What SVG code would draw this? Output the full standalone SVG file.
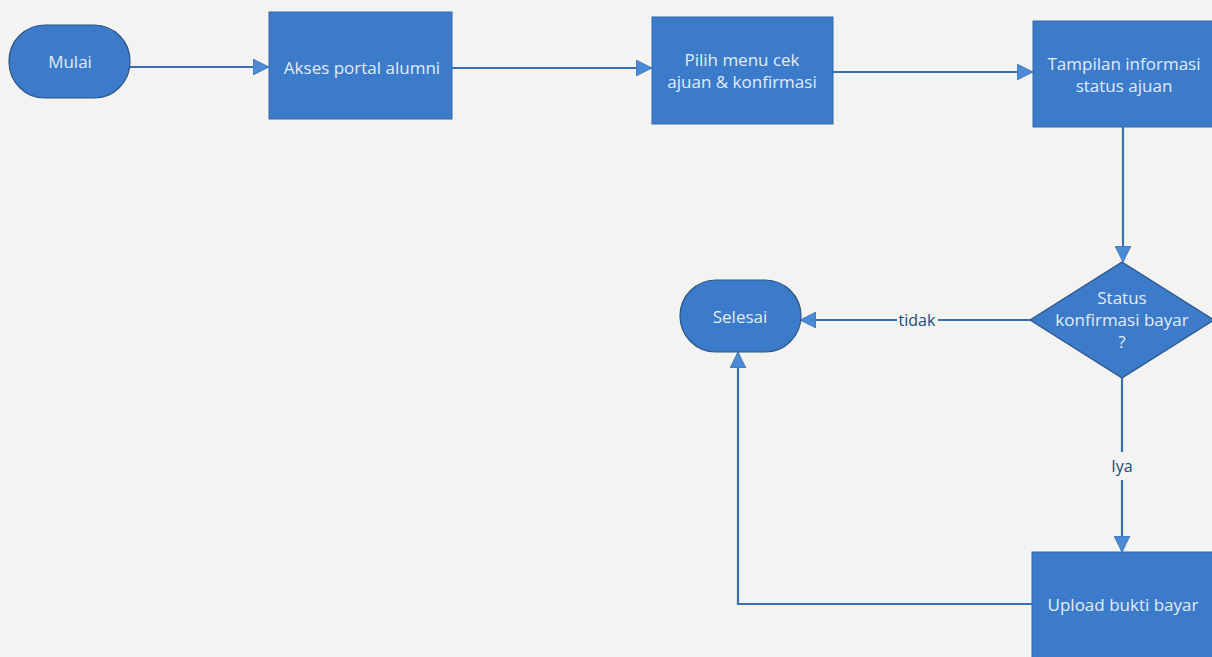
<svg xmlns="http://www.w3.org/2000/svg" width="1212" height="657" viewBox="0 0 1212 657">
<style>
.node{fill:#3b7bc9;stroke:#2b5587;stroke-width:1.2}
.box{fill:#3b7bc9;stroke:#3569a8;stroke-width:1}
.t{font-family:"Open Sans","Noto Sans",sans-serif;font-size:17px;fill:#e2ecf7;text-anchor:middle;dominant-baseline:central}
.lbl{font-family:"Open Sans","Noto Sans",sans-serif;font-size:16px;fill:#234a78;text-anchor:middle;dominant-baseline:central}
.c{fill:none;stroke:#3a70b0;stroke-width:2.2}
</style>
<defs>
<marker id="ah" viewBox="0 0 16 16" refX="15" refY="8" markerWidth="16" markerHeight="16" markerUnits="userSpaceOnUse" orient="auto">
<path d="M0,0 L16,8 L0,16 Z" fill="#4a8ad6" stroke="#3a70b0" stroke-width="0.8"/>
</marker>
</defs>
<rect x="0" y="0" width="1212" height="657" fill="#f3f3f1"/>
<g id="connectors">
<path class="c" d="M130,67 L268,67" marker-end="url(#ah)"/>
<path class="c" d="M452,68 L651,68" marker-end="url(#ah)"/>
<path class="c" d="M833,72 L1032,72" marker-end="url(#ah)"/>
<path class="c" d="M1123,127 L1123,261" marker-end="url(#ah)"/>
<path class="c" d="M1030,320 L938,320 M897,320 L801,320" marker-end="url(#ah)"/>
<path class="c" d="M1122,378 L1122,452 M1122,480 L1122,551" marker-end="url(#ah)"/>
<path class="c" d="M1032,604 L738,604 L738,353" marker-end="url(#ah)"/>
<text class="lbl" x="917" y="320">tidak</text>
<text class="lbl" x="1122" y="466">Iya</text>
</g>
<g id="mulai">
<rect class="node" x="9" y="25" width="121" height="73" rx="36" ry="36"/>
<text class="t" x="70" y="61">Mulai</text>
</g>
<g id="akses">
<rect class="box" x="269" y="12" width="183" height="107"/>
<text class="t" x="362" y="67">Akses portal alumni</text>
</g>
<g id="pilih">
<rect class="box" x="652" y="17" width="181" height="107"/>
<text class="t" x="742" y="59">Pilih menu cek</text>
<text class="t" x="742" y="81">ajuan &amp; konfirmasi</text>
</g>
<g id="tampilan">
<rect class="box" x="1033" y="21" width="185" height="106"/>
<text class="t" x="1124" y="63">Tampilan informasi</text>
<text class="t" x="1124" y="85">status ajuan</text>
</g>
<g id="status">
<path class="node" d="M1122,262 L1214,320 L1122,378 L1030,320 Z"/>
<text class="t" x="1122" y="297">Status</text>
<text class="t" x="1122" y="319">konfirmasi bayar</text>
<text class="t" x="1122" y="341">?</text>
</g>
<g id="selesai">
<rect class="node" x="680" y="280" width="121" height="72" rx="36" ry="36"/>
<text class="t" x="740" y="316">Selesai</text>
</g>
<g id="upload">
<rect class="box" x="1032" y="552" width="185" height="110"/>
<text class="t" x="1123" y="604">Upload bukti bayar</text>
</g>
</svg>
